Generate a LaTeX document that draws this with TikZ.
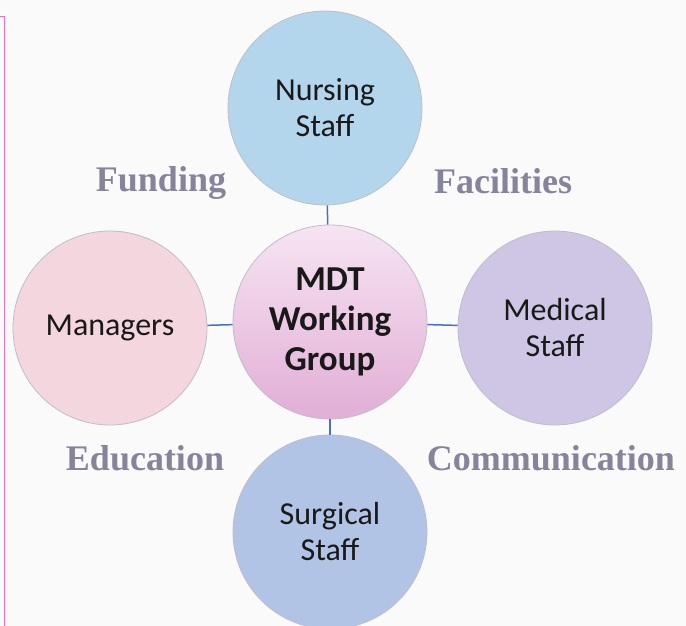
\documentclass[tikz,border=0pt]{standalone}
\usepackage{fontspec}
\setmainfont{Carlito}
\newfontfamily\themafont{Liberation Serif}
\definecolor{hintergrund}{RGB}{250,250,251}
\definecolor{rahmenpink}{RGB}{240,110,195}
\definecolor{themagrau}{RGB}{134,132,154}
\definecolor{linienblau}{RGB}{68,114,196}
\definecolor{kreisrand}{RGB}{190,190,200}
\definecolor{nursefarbe}{RGB}{180,214,236}
\definecolor{mgrfarbe}{RGB}{243,214,222}
\definecolor{medfarbe}{RGB}{207,197,228}
\definecolor{surgfarbe}{RGB}{178,196,230}
\definecolor{mdtoben}{RGB}{246,228,242}
\definecolor{mdtunten}{RGB}{226,174,214}
\begin{document}
\begin{tikzpicture}
  [
  x=1pt, y=-1pt, >=latex,
  %Voreinstellungen
  kreis/.style={circle, draw=kreisrand, line width=0.8pt, minimum size=194pt, inner sep=0pt,
    align=center, text=black!90, font=\fontsize{32}{36}\selectfont},
  thema/.style={anchor=base, text=themagrau, font=\themafont\bfseries\fontsize{36}{40}\selectfont},
  verbinder/.style={draw=linienblau, line width=1.5pt}
  ]

  %Hintergrund und Rahmen
  \fill [hintergrund] (0,0) rectangle (686,626);
  \useasboundingbox (0,0) rectangle (686,626);
  \draw [rahmenpink, line width=1pt] (0,17) -- (4,17) -- (4,626);

  %Kreise
  \node [kreis, fill=nursefarbe] (nurse) at (325,108) {Nursing\\Staff};
  \node [kreis, fill=mgrfarbe] (mgr) at (110,328) {Managers};
  \node [kreis, fill=medfarbe] (med) at (555,328) {Medical\\Staff};
  \node [kreis, fill=surgfarbe] (surg) at (330,532) {Surgical\\Staff};
  \node [kreis, top color=mdtoben, bottom color=mdtunten,
    font=\bfseries\fontsize{35}{40}\selectfont] (mdt) at (330,322) {MDT\\Working\\Group};

  %Verbindungen
  \draw [verbinder] (nurse) -- (mdt);
  \draw [verbinder] (mgr) -- (mdt);
  \draw [verbinder] (med) -- (mdt);
  \draw [verbinder] (surg) -- (mdt);

  %Themen
  \node [thema] (funding) at (161,191) {Funding};
  \node [thema] (facilities) at (503,193) {Facilities};
  \node [thema] (education) at (145,470) {Education};
  \node [thema] (communication) at (551,470) {Communication};
\end{tikzpicture}
\end{document}
